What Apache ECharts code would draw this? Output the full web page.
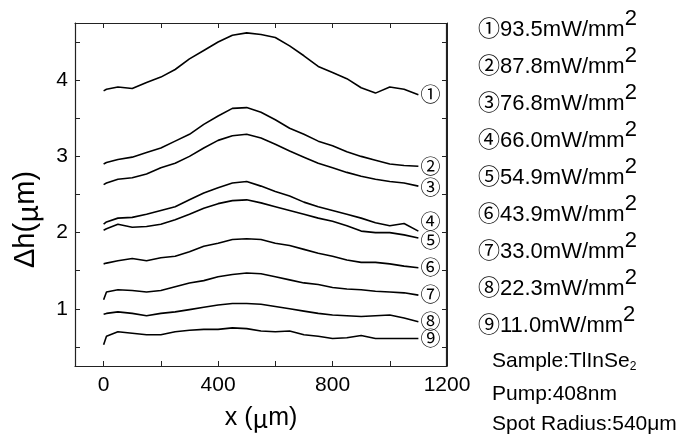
<!DOCTYPE html>
<html>
<head>
<meta charset="utf-8">
<script src="https://cdn.jsdelivr.net/npm/echarts@6/dist/echarts.min.js"></script>
<style>
  html, body { margin: 0; padding: 0; background: #fff; }
  #chart { width: 696px; height: 436px; }
</style>
</head>
<body>
<div id="chart"></div>
<script>
// Surface displacement profiles Δh(x) for nine pump intensities
const positions = [0, 10, 50, 100, 150, 200, 250, 300, 350, 400, 450, 500, 550,
                   600, 650, 700, 750, 800, 850, 900, 950, 1000, 1050, 1100];

const profile1 = [3.86, 3.88, 3.91, 3.89, 3.97, 4.04, 4.14, 4.28, 4.39, 4.50, 4.59, 4.62, 4.60,
                  4.56, 4.45, 4.32, 4.18, 4.10, 4.02, 3.90, 3.83, 3.91, 3.88, 3.81];
const profile2 = [2.90, 2.92, 2.96, 2.99, 3.05, 3.11, 3.20, 3.29, 3.42, 3.53, 3.63, 3.64, 3.58,
                  3.48, 3.37, 3.29, 3.20, 3.14, 3.06, 3.00, 2.95, 2.90, 2.88, 2.87];
const profile3 = [2.63, 2.65, 2.70, 2.72, 2.77, 2.85, 2.91, 3.00, 3.11, 3.21, 3.27, 3.29, 3.24,
                  3.16, 3.07, 2.99, 2.91, 2.85, 2.79, 2.74, 2.70, 2.67, 2.65, 2.61];
const profile4 = [2.11, 2.14, 2.19, 2.20, 2.24, 2.29, 2.34, 2.43, 2.52, 2.59, 2.65, 2.67, 2.61,
                  2.54, 2.48, 2.40, 2.34, 2.29, 2.24, 2.19, 2.13, 2.09, 2.12, 2.02];
const profile5 = [2.03, 2.05, 2.11, 2.07, 2.08, 2.11, 2.17, 2.24, 2.32, 2.38, 2.42, 2.43, 2.39,
                  2.34, 2.29, 2.24, 2.19, 2.15, 2.09, 2.02, 2.00, 2.00, 1.97, 1.93];
const profile6 = [1.59, 1.60, 1.63, 1.66, 1.63, 1.67, 1.69, 1.75, 1.82, 1.86, 1.91, 1.92, 1.91,
                  1.86, 1.83, 1.78, 1.73, 1.69, 1.64, 1.61, 1.61, 1.59, 1.56, 1.54];
const profile7 = [1.12, 1.22, 1.25, 1.24, 1.22, 1.24, 1.29, 1.34, 1.37, 1.42, 1.45, 1.47, 1.46,
                  1.42, 1.38, 1.34, 1.32, 1.28, 1.26, 1.25, 1.23, 1.22, 1.21, 1.18];
const profile8 = [0.93, 0.94, 0.96, 0.94, 0.91, 0.94, 0.96, 0.99, 1.02, 1.05, 1.07, 1.07, 1.06,
                  1.03, 1.00, 0.97, 0.94, 0.92, 0.91, 0.90, 0.91, 0.92, 0.88, 0.83];
const profile9 = [0.53, 0.64, 0.70, 0.68, 0.66, 0.66, 0.70, 0.72, 0.73, 0.73, 0.75, 0.74, 0.71,
                  0.70, 0.71, 0.66, 0.64, 0.61, 0.62, 0.65, 0.61, 0.61, 0.61, 0.61];

const profiles = [profile1, profile2, profile3, profile4, profile5,
                  profile6, profile7, profile8, profile9];
const markers = ['①', '②', '③', '④', '⑤', '⑥', '⑦', '⑧', '⑨'];
const intensities = ['93.5', '87.8', '76.8', '66.0', '54.9', '43.9', '33.0', '22.3', '11.0'];

const xTicks = [0, 200, 400, 600, 800, 1000, 1200];
const xLabels = [0, 400, 800, 1200];
const yTicks = [0.5, 1, 1.5, 2, 2.5, 3, 3.5, 4, 4.5];
const yLabels = [1, 2, 3, 4];
const xRange = [-100, 1200];
const yRange = [0.25, 4.75];

// vertical nudges for end markers that would otherwise collide
const markerShift = [0, 0, 1, -10, 2, 0, -1, 0, 0];

const LATIN = '"Liberation Sans", Arial, "Noto Sans CJK JP", sans-serif';
const CJK = '"Noto Sans CJK JP", sans-serif';
const FRAME = '#222';

const chart = echarts.init(document.getElementById('chart'), null, { renderer: 'canvas' });

const makeLine = (w) => ({ show: true, onZero: false, lineStyle: { color: FRAME, width: w } });
const tickStyle = (vals) => ({ show: true, inside: true, length: 5, customValues: vals,
                               lineStyle: { color: FRAME, width: 1 } });
const plain = (v) => String(v);
const titleRich = (size) => ({ mu: { fontFamily: CJK, fontSize: size, color: '#000' } });

const series = profiles.map((p, i) => ({
  type: 'line',
  xAxisIndex: 0,
  yAxisIndex: 0,
  data: positions.map((x, k) => [x, p[k]]),
  showSymbol: false,
  symbol: 'none',
  silent: true,
  lineStyle: { color: '#000', width: 1.6 },
  endLabel: {
    show: true,
    formatter: markers[i],
    fontFamily: CJK,
    fontSize: 20,
    distance: 2,
    color: '#000',
    offset: [0, markerShift[i]]
  }
}));

// legend block on the right: intensities plus sample notes
const legendTexts = intensities.map((v, i) => ({
  type: 'text',
  left: 478,
  top: 8 + i * 37,
  style: {
    text: markers[i] + v + 'mW/mm{sup|2}',
    fill: '#000',
    font: '22px ' + LATIN,
    rich: { sup: { fontSize: 22, fontFamily: LATIN, padding: [0, 0, 22, 0] } }
  }
}));

const notes = [
  { top: 351, text: 'Sample:TlInSe{sub|2}' },
  { top: 384, text: 'Pump:408nm' },
  { top: 414, text: 'Spot Radius:540μm' }
].map(n => ({
  type: 'text',
  left: 492,
  top: n.top,
  style: {
    text: n.text,
    fill: '#000',
    font: '21px ' + LATIN,
    rich: { sub: { fontSize: 12, fontFamily: LATIN, padding: [10, 0, 0, 0] } }
  }
}));

chart.setOption({
  animation: false,
  backgroundColor: '#fff',
  grid: { left: 75, top: 23, width: 372, height: 343, containLabel: false, show: false },
  xAxis: [{
    type: 'value', position: 'bottom', min: xRange[0], max: xRange[1],
    axisLine: makeLine(1), splitLine: { show: false },
    axisTick: tickStyle(xTicks),
    axisLabel: { customValues: xLabels, formatter: plain, fontSize: 21, fontFamily: LATIN,
                 color: '#000', margin: 9 },
    name: 'x ({mu|μ}m)', nameLocation: 'middle', nameGap: 40,
    nameTextStyle: { fontSize: 25, fontFamily: LATIN, color: '#000', rich: titleRich(25) }
  }, {
    type: 'value', position: 'top', min: xRange[0], max: xRange[1],
    axisLine: makeLine(1), splitLine: { show: false },
    axisTick: tickStyle(xTicks),
    axisLabel: { show: false }
  }],
  yAxis: [{
    type: 'value', position: 'left', min: yRange[0], max: yRange[1],
    axisLine: makeLine(1), splitLine: { show: false },
    axisTick: tickStyle(yTicks),
    axisLabel: { customValues: yLabels, formatter: plain, fontSize: 21, fontFamily: LATIN,
                 color: '#000', margin: 7 },
    name: 'Δh({mu|μ}m)', nameLocation: 'middle', nameGap: 34, nameRotate: 90,
    nameTextStyle: { fontSize: 29, fontFamily: LATIN, color: '#000', padding: [0, 50, 0, 0],
                     rich: titleRich(29) }
  }, {
    type: 'value', position: 'right', min: yRange[0], max: yRange[1],
    axisLine: makeLine(1), splitLine: { show: false },
    axisTick: tickStyle(yTicks),
    axisLabel: { show: false }
  }],
  series,
  graphic: legendTexts.concat(notes)
});

// plot frame as one rectangle, placed from the axes' own scale
const corner0 = chart.convertToPixel({ xAxisIndex: 0, yAxisIndex: 0 }, [xRange[0], yRange[1]]);
const corner1 = chart.convertToPixel({ xAxisIndex: 0, yAxisIndex: 0 }, [xRange[1], yRange[0]]);
chart.setOption({
  graphic: legendTexts.concat(notes).concat([{
    type: 'rect',
    z: 100,
    silent: true,
    shape: {
      x: Math.round(corner0[0]) + 0.5,
      y: Math.round(corner0[1]) + 0.5,
      width: Math.round(corner1[0]) - Math.round(corner0[0]) - 1,
      height: Math.round(corner1[1]) - Math.round(corner0[1])
    },
    style: { fill: 'none', stroke: FRAME, lineWidth: 1.2 }
  }])
});
</script>
</body>
</html>
